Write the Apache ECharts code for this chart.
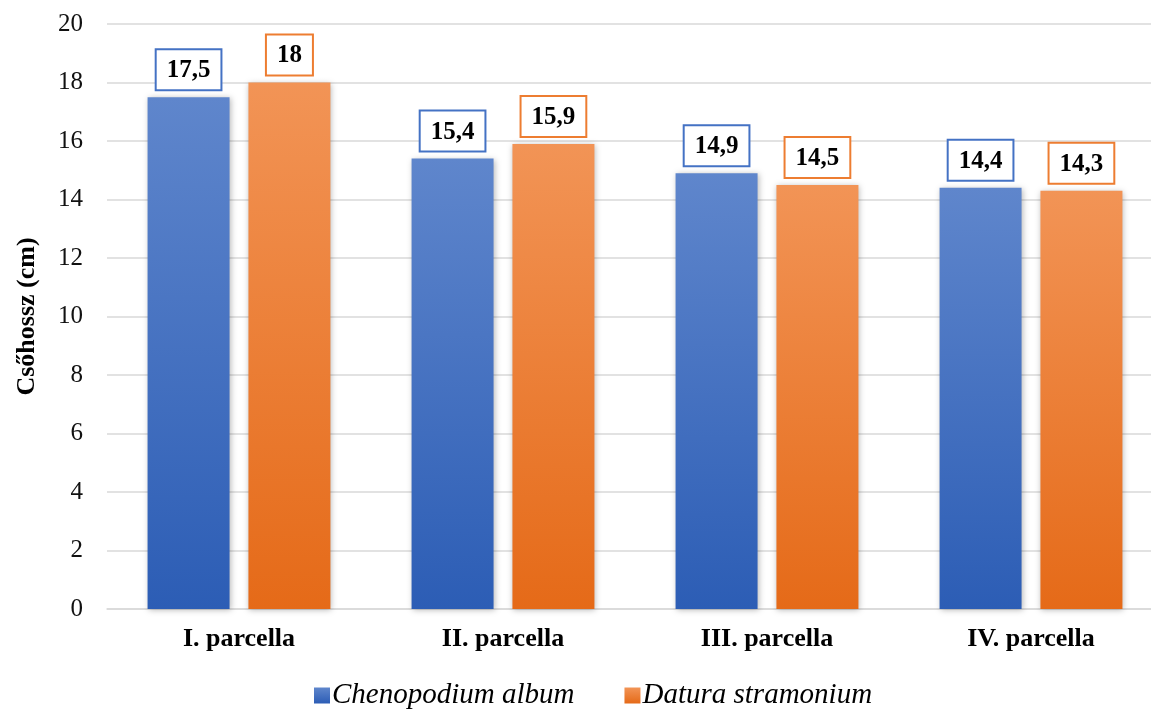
<!DOCTYPE html>
<html>
<head>
<meta charset="utf-8">
<script src="https://cdn.jsdelivr.net/npm/echarts@6/dist/echarts.min.js"></script>
<style>
  html, body { margin: 0; padding: 0; background: #fff; overflow: hidden; }
  /* the plot area runs slightly past the right edge of the page */
  #chart { width: 1164px; height: 709px; }
</style>
</head>
<body>
<div id="chart"></div>
<script>
// Plot categories and measured tube lengths (cm)
const categories = ['I. parcella', 'II. parcella', 'III. parcella', 'IV. parcella'];
const chenopodium = [17.5, 15.4, 14.9, 14.4];
const datura = [18, 15.9, 14.5, 14.3];
const seriesNames = ['Chenopodium album', 'Datura stramonium'];
const yTicks = [0, 2, 4, 6, 8, 10, 12, 14, 16, 18, 20];

const FONT = '"Liberation Serif", "Times New Roman", serif';

function grad(top, bottom) {
  return new echarts.graphic.LinearGradient(0, 0, 0, 1, [
    { offset: 0, color: top },
    { offset: 1, color: bottom }
  ]);
}

function fmt(v) {
  return String(v).replace('.', ',');
}

function barSeries(name, data, top, bottom, border) {
  return {
    name: name,
    type: 'bar',
    data: data,
    barWidth: 82,
    barGap: '23%',
    itemStyle: {
      color: grad(top, bottom),
      shadowBlur: 6,
      shadowColor: 'rgba(0,0,0,0.28)',
      shadowOffsetX: 1,
      shadowOffsetY: 1
    },
    label: {
      show: true,
      position: 'top',
      distance: 8,
      formatter: p => fmt(p.value),
      fontFamily: FONT,
      fontWeight: 'bold',
      fontSize: 25,
      lineHeight: 25,
      color: '#000',
      backgroundColor: '#fff',
      borderColor: border,
      borderWidth: 2,
      padding: [8, 10, 6, 10]
    },
    emphasis: { disabled: true }
  };
}

const chart = echarts.init(document.getElementById('chart'), null, { renderer: 'canvas' });
chart.setOption({
  animation: false,
  backgroundColor: '#fff',
  grid: { left: 107, top: 24, right: 1, height: 585, containLabel: false },
  legend: {
    top: 676,
    left: 309,
    itemWidth: 16,
    itemHeight: 16,
    itemGap: 50,
    icon: 'rect',
    textStyle: { fontFamily: FONT, fontStyle: 'italic', fontSize: 29, color: '#000', padding: [0, 0, 0, -3] },
    data: seriesNames
  },
  xAxis: {
    type: 'category',
    data: categories,
    axisLine: { lineStyle: { color: '#D9D9D9', width: 1.5 } },
    axisTick: { show: false },
    axisLabel: { fontFamily: FONT, fontWeight: 'bold', fontSize: 26, color: '#000', margin: 17 }
  },
  yAxis: {
    type: 'value',
    min: yTicks[0],
    max: yTicks[yTicks.length - 1],
    interval: 2,
    name: 'Csőhossz (cm)',
    nameLocation: 'middle',
    nameGap: 67,
    nameTextStyle: { fontFamily: FONT, fontWeight: 'bold', fontSize: 26, color: '#000' },
    axisLine: { show: false },
    axisTick: { show: false },
    axisLabel: { fontFamily: FONT, fontSize: 25, color: '#111', margin: 24 },
    splitLine: { lineStyle: { color: '#D9D9D9', width: 1.5 } }
  },
  series: [
    barSeries(seriesNames[0], chenopodium, '#5F86CC', '#2C5DB5', '#4472C4'),
    barSeries(seriesNames[1], datura, '#F29456', '#E56A18', '#ED7D31')
  ]
});
</script>
</body>
</html>
